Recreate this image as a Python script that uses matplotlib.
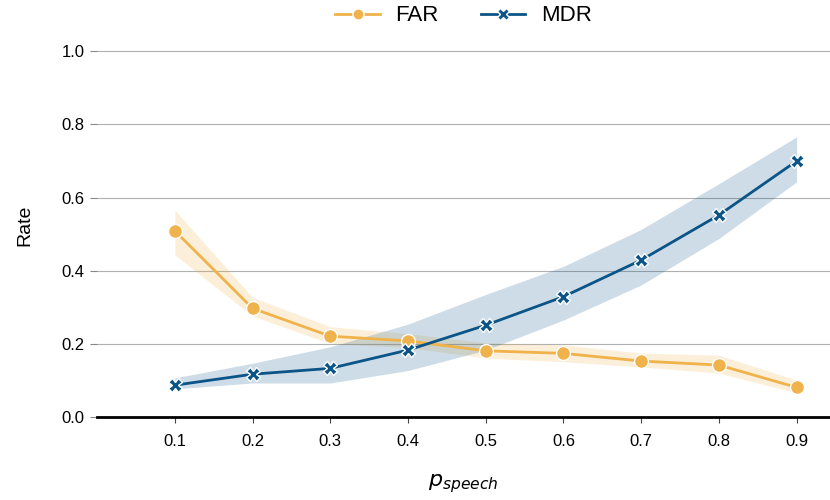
import matplotlib
matplotlib.use("Agg")
import matplotlib.pyplot as plt

plt.rcParams['font.family'] = ['Liberation Sans', 'DejaVu Sans']

p_speech = [0.1, 0.2, 0.3, 0.4, 0.5, 0.6, 0.7, 0.8, 0.9]
far = [0.509, 0.297, 0.221, 0.208, 0.181, 0.174, 0.153, 0.142, 0.081]
far_lo = [0.443, 0.276, 0.201, 0.190, 0.161, 0.151, 0.137, 0.120, 0.066]
far_hi = [0.566, 0.327, 0.247, 0.228, 0.203, 0.197, 0.175, 0.169, 0.101]
mdr = [0.087, 0.117, 0.133, 0.183, 0.251, 0.329, 0.429, 0.552, 0.700]
mdr_lo = [0.077, 0.093, 0.093, 0.127, 0.183, 0.265, 0.361, 0.488, 0.643]
mdr_hi = [0.107, 0.147, 0.192, 0.254, 0.335, 0.412, 0.513, 0.638, 0.766]
yticks = [0.0, 0.2, 0.4, 0.6, 0.8, 1.0]

far_color = '#F0B24A'
mdr_color = '#0B5487'

fig = plt.figure(figsize=(8.3, 5), dpi=100)
ax = fig.add_axes([0.117, 0.166, 0.883, 0.768])

ax.fill_between(p_speech, far_lo, far_hi, color=far_color, alpha=0.2, linewidth=0)
ax.fill_between(p_speech, mdr_lo, mdr_hi, color=mdr_color, alpha=0.2, linewidth=0)
ax.plot(p_speech, far, color=far_color, lw=2, marker='o', ms=10,
        mec='white', mew=1, label='FAR', zorder=3)
ax.plot(p_speech, mdr, color=mdr_color, lw=2, marker='X', ms=10,
        mec='white', mew=1, label='MDR', zorder=3)

ax.set_xlim(0.0, 0.943)
ax.set_ylim(0.0, 1.05)
ax.set_xticks(p_speech)
ax.set_xticklabels([f"{v:.1f}" for v in p_speech])
ax.set_yticks(yticks)
ax.set_yticklabels([f"{v:.1f}" for v in yticks])
ax.yaxis.grid(True, color='#b0b0b0', lw=0.8)
ax.set_axisbelow(True)
for s in ['top', 'right', 'left']:
    ax.spines[s].set_visible(False)
ax.spines['bottom'].set_linewidth(2)
ax.spines['bottom'].set_color('black')
ax.tick_params(axis='y', length=5, color='#888888', labelsize=12, pad=4)
ax.tick_params(axis='x', length=4, color='#444444', labelsize=12, pad=8)
ax.set_ylabel('Rate', fontsize=14, labelpad=20)
ax.set_xlabel('$p_{speech}$', fontsize=16, labelpad=17)

ax.legend(loc='lower center', bbox_to_anchor=(0.5, 0.994), ncol=2, frameon=False,
          fontsize=16, handlelength=2.0, handletextpad=0.7, columnspacing=1.9,
          borderaxespad=0, markerscale=0.8)

fig.savefig('out.png', dpi=100)
